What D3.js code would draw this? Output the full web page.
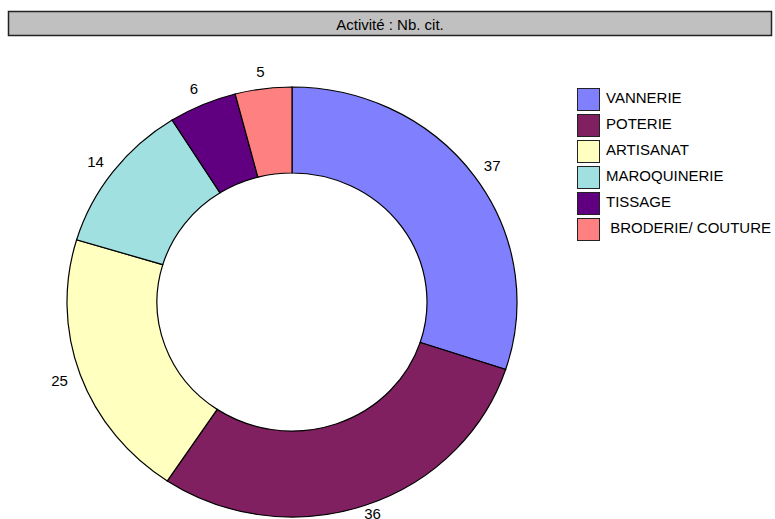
<!DOCTYPE html>
<html><head><meta charset="utf-8">
<script src="https://cdn.jsdelivr.net/npm/d3@7"></script>
<style>body{margin:0;background:#fff}svg{display:block}text{font-family:"Liberation Sans",Arial,sans-serif}</style>
</head><body>
<svg id="c" width="775" height="519"></svg>
<script>
const title = "Activité : Nb. cit.";
const categories = ["VANNERIE","POTERIE","ARTISANAT","MAROQUINERIE","TISSAGE"," BRODERIE/ COUTURE"];
const values = [37,36,25,14,6,5];
const colors = ["#8080FF","#802060","#FFFFC0","#A0E0E0","#600080","#FF8080"];

const W = 775, H = 519;
const svg = d3.select("#c");
// title box
svg.append("rect").attr("x",8.5).attr("y",11.5).attr("width",763).attr("height",24)
  .attr("fill","#c0c0c0").attr("stroke","#222").attr("stroke-width",1.5);
svg.append("text").attr("x",390).attr("y",24).attr("text-anchor","middle")
  .attr("dominant-baseline","central")
  .attr("font-size",15).attr("fill","#000").text(title);

const cx = 292, cy = 302, rOut = 225, rIn = 135, sy = 215/225;
const pie = d3.pie().sort(null).value(d=>d)(values);
const arc = d3.arc().innerRadius(rIn).outerRadius(rOut);
const g = svg.append("g").attr("transform",`translate(${cx},${cy}) scale(1,${sy})`);
g.selectAll("path").data(pie).join("path")
  .attr("d",arc).attr("fill",(d,i)=>colors[i])
  .attr("stroke","#000").attr("stroke-width",1.2)
  .attr("vector-effect","non-scaling-stroke");

const labelArc = d3.arc().innerRadius(247).outerRadius(247);
svg.selectAll("text.lbl").data(pie).join("text").attr("class","lbl")
  .attr("x",d=>cx+labelArc.centroid(d)[0])
  .attr("y",d=>Math.min(H-6, cy+labelArc.centroid(d)[1]*sy*0.985))
  .attr("text-anchor","middle").attr("dominant-baseline","central")
  .attr("font-size",15).attr("fill","#000").text(d=>d.data);

// legend
const lg = svg.append("g");
const items = lg.selectAll("g").data(categories).join("g")
  .attr("transform",(d,i)=>`translate(577,${88+i*26})`);
items.append("rect").attr("x",0.5).attr("y",0.5).attr("width",22).attr("height",22)
  .attr("fill",(d,i)=>colors[i]).attr("stroke","#222").attr("stroke-width",1);
items.append("text").attr("x",29).attr("y",9.5).attr("dominant-baseline","central")
  .attr("font-size",15).attr("fill","#000").attr("xml:space","preserve")
  .style("white-space","pre").text(d=>d);
</script>
</body></html>
